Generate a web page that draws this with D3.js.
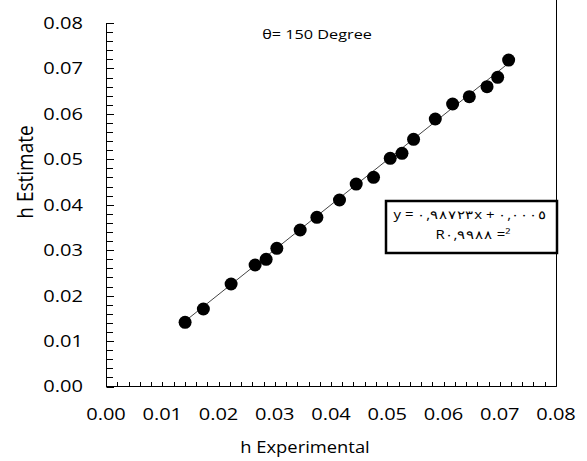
<!DOCTYPE html>
<html><head><meta charset="utf-8">
<script src="https://cdn.jsdelivr.net/npm/d3@7"></script>
<style>body{margin:0;background:#fff}svg{display:block}text{font-family:"Open Sans",sans-serif;fill:#000}</style>
</head><body>
<script>
const hExperimental = [0.01406,0.01731,0.02224,0.02651,0.02847,0.03037,0.03452,0.03749,0.04151,0.04448,0.04756,0.05053,0.05262,0.05468,0.05854,0.06162,0.06459,0.06774,0.06963,0.07158];
const hEstimate     = [0.01413,0.01706,0.02256,0.02674,0.02799,0.03041,0.03444,0.03724,0.04104,0.04456,0.04604,0.05022,0.05132,0.05440,0.05887,0.06217,0.06378,0.06598,0.06805,0.07185];
const trendSlope = 0.98723, trendIntercept = 0.0005;
const xTickLabels = ["0.00","0.01","0.02","0.03","0.04","0.05","0.06","0.07","0.08"];
const yTickLabels = ["0.00","0.01","0.02","0.03","0.04","0.05","0.06","0.07","0.08"];
const titleText = "θ= 150 Degree";
const xTitle = "h Experimental", yTitle = "h Estimate";
const eqLine1 = "y = ٠,٩٨٧٢٣x + ٠,٠٠٠٥";
const eqLine2 = "R٠,٩٩٨٨ =²";

const W = 587, H = 461;
const svg = d3.select("body").append("svg").attr("width", W).attr("height", H);
const x = d3.scaleLinear().domain([0, 0.08]).range([106, 556]);
const y = d3.scaleLinear().domain([0, 0.08]).range([386.5, 23]);

function stext(px, py, txt, size, sx, anchor, rot) {
  const g = svg.append("g").attr("transform", `translate(${px},${py}) scale(${sx},1)` + (rot ? ` rotate(${rot})` : ""));
  return g.append("text").attr("text-anchor", anchor).attr("dy", "0.35em").attr("font-size", size).text(txt);
}

// right frame line
svg.append("line").attr("x1", 556.5).attr("x2", 556.5).attr("y1", 0).attr("y2", 386.5).attr("stroke", "#000").attr("stroke-width", 1);

// axes lines
svg.append("line").attr("x1", 106.5).attr("x2", 106.5).attr("y1", 23).attr("y2", 386.5).attr("stroke", "#000");
svg.append("line").attr("x1", 106).attr("x2", 556.5).attr("y1", 386.5).attr("y2", 386.5).attr("stroke", "#000");

// minor ticks
const minor = d3.range(0, 41).map(i => i * 0.002);
svg.selectAll(".ymt").data(minor).enter().append("line")
  .attr("x1", 106.5).attr("x2", (d, i) => i % 5 === 0 ? 114 : 113)
  .attr("y1", d => Math.round(y(d)) + 0.5).attr("y2", d => Math.round(y(d)) + 0.5)
  .attr("stroke", "#000");
svg.selectAll(".xmt").data(minor).enter().append("line")
  .attr("x1", d => Math.round(x(d)) + 0.5).attr("x2", d => Math.round(x(d)) + 0.5)
  .attr("y1", 386.5).attr("y2", 382)
  .attr("stroke", "#000");

// tick labels
yTickLabels.forEach((t, i) => stext(83, y(i * 0.01), t, 17, 1.18, "end"));
xTickLabels.forEach((t, i) => stext(x(i * 0.01), 414, t, 17, 1.18, "middle"));

// titles
stext(305, 447, xTitle, 17, 1.08, "middle");
stext(25, 172, yTitle, 19, 1.18, "middle", -90);
stext(317, 35, titleText, 12.5, 1.3, "middle");

// trendline
const x0 = d3.min(hExperimental), x1 = d3.max(hExperimental);
svg.append("line")
  .attr("x1", x(x0)).attr("y1", y(trendSlope * x0 + trendIntercept))
  .attr("x2", x(x1)).attr("y2", y(trendSlope * x1 + trendIntercept))
  .attr("stroke", "#444").attr("stroke-width", 1);

// points
svg.selectAll(".pt").data(hExperimental).enter().append("circle")
  .attr("cx", d => x(d)).attr("cy", (d, i) => y(hEstimate[i])).attr("r", 6.5).attr("fill", "#000");

// equation box
svg.append("rect").attr("x", 386).attr("y", 201).attr("width", 171).attr("height", 52)
  .attr("fill", "#fff").attr("stroke", "#000").attr("stroke-width", 2.5);
stext(470, 215, eqLine1, 12, 1.25, "middle");
stext(473, 235, eqLine2, 12, 1.25, "middle");
</script>
</body></html>
